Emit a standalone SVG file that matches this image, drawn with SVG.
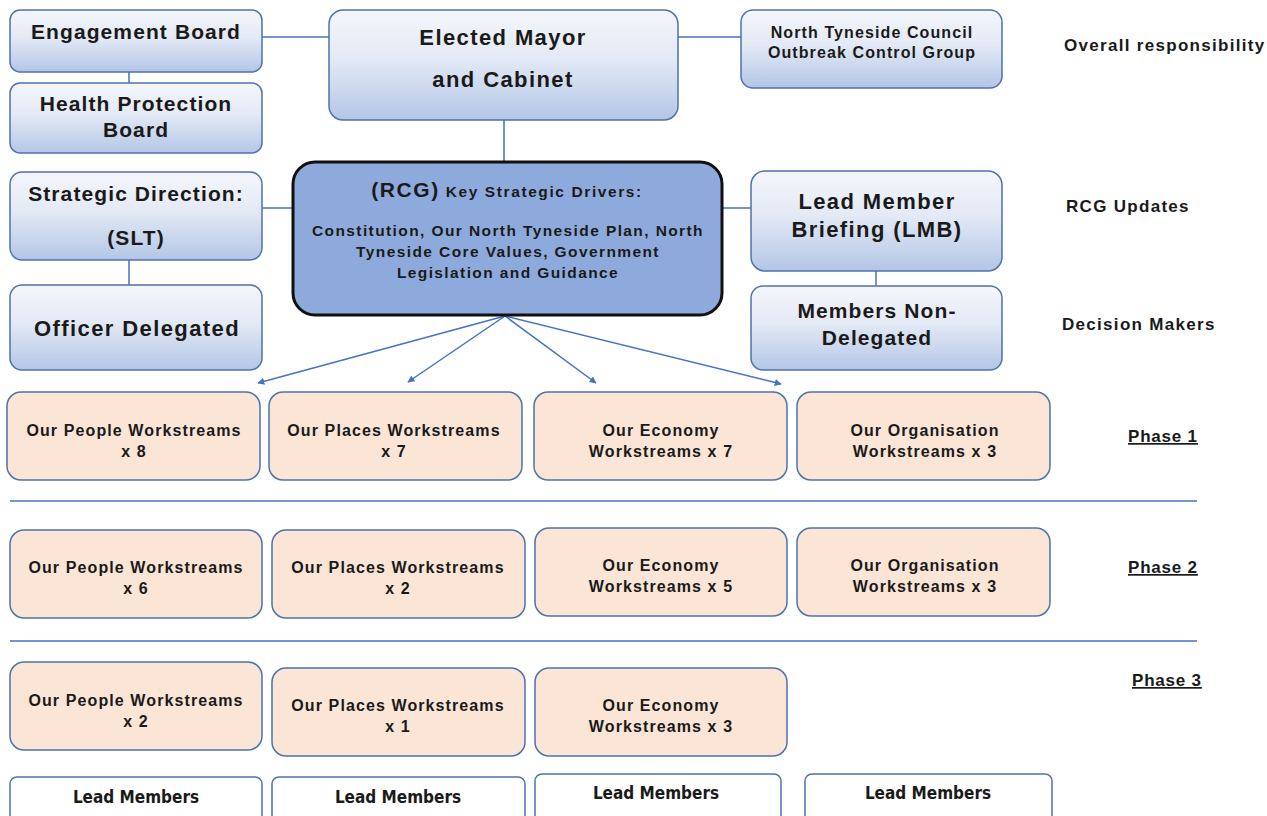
<svg xmlns="http://www.w3.org/2000/svg" width="1267" height="816" viewBox="0 0 1267 816">
<defs>
<linearGradient id="bg" x1="0" y1="0" x2="0" y2="1">
<stop offset="0" stop-color="#f4f6fb"/>
<stop offset="0.45" stop-color="#e3e9f5"/>
<stop offset="1" stop-color="#b3c6e6"/>
</linearGradient>
<marker id="ah" viewBox="0 0 10 10" refX="9" refY="5" markerWidth="7" markerHeight="7" orient="auto" markerUnits="userSpaceOnUse">
<path d="M0,0 L10,5 L0,10 z" fill="#4472c4"/>
</marker>
<style>
.b{fill:url(#bg);stroke:#4f72ad;stroke-width:1.5}
.w{fill:#fae5d6;stroke:#4f72ad;stroke-width:1.5}
.lm{fill:#ffffff;stroke:#4f72ad;stroke-width:1.5}
.rcg{fill:#8eaadc;stroke:#111;stroke-width:3}
text{font-family:"Liberation Sans",Arial,sans-serif;font-weight:bold;fill:#1a1a1a;text-anchor:middle}
.t21{font-size:21px;letter-spacing:1.1px}
.t22{font-size:22px;letter-spacing:1.4px}
.t16{font-size:16px;letter-spacing:1.1px}
.t15{font-size:15.5px;letter-spacing:1.4px}
.side{font-size:17px;letter-spacing:1.3px;text-anchor:start}
.ph{font-size:17px;letter-spacing:0.8px;text-anchor:start;text-decoration:underline}
.lmt{font-family:"DejaVu Sans Condensed","DejaVu Sans",sans-serif;font-stretch:condensed;font-size:17px}
.c{stroke:#4472c4;stroke-width:1.5;fill:none}
</style>
</defs>
<g id="connectors">
<line class="c" x1="262" y1="37" x2="329" y2="37"/>
<line class="c" x1="678" y1="37" x2="741" y2="37"/>
<line class="c" x1="129" y1="72" x2="129" y2="83"/>
<line class="c" x1="504" y1="120" x2="504" y2="161"/>
<line class="c" x1="262" y1="208" x2="292" y2="208"/>
<line class="c" x1="722" y1="208" x2="751" y2="208"/>
<line class="c" x1="129" y1="260" x2="129" y2="285"/>
<line class="c" x1="876" y1="271" x2="876" y2="286"/>
<line class="c" x1="505" y1="316" x2="258" y2="383" marker-end="url(#ah)"/>
<line class="c" x1="505" y1="316" x2="408" y2="382" marker-end="url(#ah)"/>
<line class="c" x1="505" y1="316" x2="596" y2="383" marker-end="url(#ah)"/>
<line class="c" x1="505" y1="316" x2="781" y2="384" marker-end="url(#ah)"/>
<line class="c" x1="10" y1="501" x2="1197" y2="501"/>
<line class="c" x1="10" y1="641" x2="1197" y2="641"/>
</g>
<g id="engagement"><rect class="b" x="10" y="10" width="252" height="62" rx="10"/><text class="t21" x="136" y="39">Engagement Board</text></g>
<g id="health"><rect class="b" x="10" y="83" width="252" height="70" rx="10"/><text class="t21" x="136" y="111">Health Protection</text><text class="t21" x="136" y="137">Board</text></g>
<g id="mayor"><rect class="b" x="329" y="10" width="349" height="110" rx="14"/><text class="t22" x="503" y="45">Elected Mayor</text><text class="t22" x="503" y="87">and Cabinet</text></g>
<g id="ocg"><rect class="b" x="741" y="10" width="261" height="78" rx="12"/><text class="t16" x="872" y="38">North Tyneside Council</text><text class="t16" x="872" y="58">Outbreak Control Group</text></g>
<g id="strategic"><rect class="b" x="10" y="172" width="252" height="88" rx="12"/><text class="t21" x="136" y="201">Strategic Direction:</text><text class="t21" x="136" y="245">(SLT)</text></g>
<g id="officer"><rect class="b" x="10" y="285" width="252" height="85" rx="12"/><text class="t22" x="137" y="336">Officer Delegated</text></g>
<g id="rcg"><rect class="rcg" x="293" y="162" width="429" height="153" rx="22"/>
<text x="507" y="197" letter-spacing="1.6"><tspan font-size="21px">(RCG)</tspan><tspan font-size="15.5px"> Key Strategic Drivers:</tspan></text>
<text class="t15" x="508" y="236">Constitution, Our North Tyneside Plan, North</text>
<text class="t15" x="508" y="257">Tyneside Core Values, Government</text>
<text class="t15" x="508" y="278">Legislation and Guidance</text></g>
<g id="lmb"><rect class="b" x="751" y="171" width="251" height="100" rx="14"/><text class="t22" x="877" y="209" font-size="23px" letter-spacing="1.8">Lead Member</text><text class="t22" x="877" y="237" font-size="23px" letter-spacing="1.8">Briefing (LMB)</text></g>
<g id="nondelegated"><rect class="b" x="751" y="286" width="251" height="84" rx="12"/><text class="t21" x="877" y="318" letter-spacing="1.4">Members Non-</text><text class="t21" x="877" y="345" letter-spacing="1.4">Delegated</text></g>
<g id="labels">
<text class="side" x="1064" y="51">Overall responsibility</text>
<text class="side" x="1066" y="212">RCG Updates</text>
<text class="side" x="1062" y="330">Decision Makers</text>
<text class="ph" x="1128" y="442">Phase 1</text>
<text class="ph" x="1128" y="573">Phase 2</text>
<text class="ph" x="1132" y="686">Phase 3</text>
</g>
<g id="p1-people"><rect class="w" x="7" y="392" width="253" height="88" rx="14"/><text class="t16" x="134" y="436">Our People Workstreams</text><text class="t16" x="134" y="457">x 8</text></g>
<g id="p1-places"><rect class="w" x="269" y="392" width="253" height="88" rx="14"/><text class="t16" x="394" y="436">Our Places Workstreams</text><text class="t16" x="394" y="457">x 7</text></g>
<g id="p1-economy"><rect class="w" x="534" y="392" width="253" height="88" rx="14"/><text class="t16" x="661" y="436">Our Economy</text><text class="t16" x="661" y="457">Workstreams x 7</text></g>
<g id="p1-org"><rect class="w" x="797" y="392" width="253" height="88" rx="14"/><text class="t16" x="925" y="436">Our Organisation</text><text class="t16" x="925" y="457">Workstreams x 3</text></g>
<g id="p2-people"><rect class="w" x="10" y="530" width="252" height="88" rx="14"/><text class="t16" x="136" y="573">Our People Workstreams</text><text class="t16" x="136" y="594">x 6</text></g>
<g id="p2-places"><rect class="w" x="272" y="530" width="253" height="88" rx="14"/><text class="t16" x="398" y="573">Our Places Workstreams</text><text class="t16" x="398" y="594">x 2</text></g>
<g id="p2-economy"><rect class="w" x="535" y="528" width="252" height="88" rx="14"/><text class="t16" x="661" y="571">Our Economy</text><text class="t16" x="661" y="592">Workstreams x 5</text></g>
<g id="p2-org"><rect class="w" x="797" y="528" width="253" height="88" rx="14"/><text class="t16" x="925" y="571">Our Organisation</text><text class="t16" x="925" y="592">Workstreams x 3</text></g>
<g id="p3-people"><rect class="w" x="10" y="662" width="252" height="88" rx="14"/><text class="t16" x="136" y="706">Our People Workstreams</text><text class="t16" x="136" y="727">x 2</text></g>
<g id="p3-places"><rect class="w" x="272" y="668" width="253" height="88" rx="14"/><text class="t16" x="398" y="711">Our Places Workstreams</text><text class="t16" x="398" y="732">x 1</text></g>
<g id="p3-economy"><rect class="w" x="535" y="668" width="252" height="88" rx="14"/><text class="t16" x="661" y="711">Our Economy</text><text class="t16" x="661" y="732">Workstreams x 3</text></g>
<g id="lead1"><rect class="lm" x="10" y="777" width="252" height="45" rx="7"/><text class="lmt" x="136" y="803">Lead Members</text></g>
<g id="lead2"><rect class="lm" x="272" y="777" width="253" height="45" rx="7"/><text class="lmt" x="398" y="803">Lead Members</text></g>
<g id="lead3"><rect class="lm" x="535" y="774" width="246" height="48" rx="7"/><text class="lmt" x="656" y="799">Lead Members</text></g>
<g id="lead4"><rect class="lm" x="805" y="774" width="247" height="48" rx="7"/><text class="lmt" x="928" y="799">Lead Members</text></g>
</svg>
